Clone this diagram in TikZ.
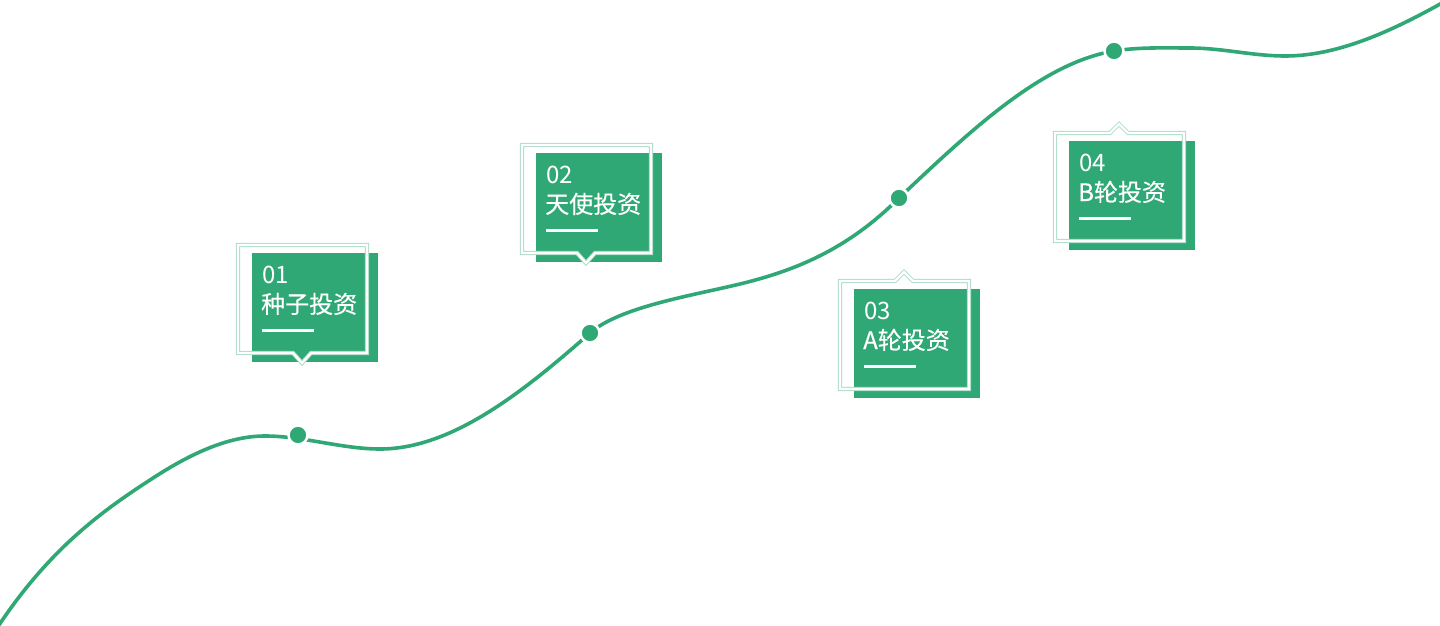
\documentclass[tikz,border=0pt]{standalone}
\usepackage{fontspec}
\setmainfont{Noto Sans CJK SC}
\newfontfamily\stagefont{Noto Sans CJK SC}[FakeBold=0.35]
\definecolor{stagegreen}{RGB}{48,168,117}

\tikzset{
  growth/.style={draw=stagegreen, line width=3.6pt},
  stagedot/.style={circle, fill=stagegreen, draw=white, line width=2.5pt, minimum size=19pt, inner sep=0pt},
  cardfill/.style={fill=stagegreen},
  cardframe/.style={draw=stagegreen!40, line width=1pt, double=white, double distance=2.2pt, line join=miter},
  stagetext/.style={anchor=base west, inner sep=0pt, text=white, font=\fontsize{24}{28}\selectfont},
  stagebar/.style={draw=white, line width=3pt}
}

\begin{document}
\begin{tikzpicture}[x=1pt, y=-1pt]
    \useasboundingbox (0,0) rectangle (1440,626);

    % points where the stages sit on the curve
    \coordinate (p1) at (298,435);
    \coordinate (p2) at (590,333);
    \coordinate (p3) at (899,198);
    \coordinate (p4) at (1114,51);

    \draw[growth] (-3,628) .. controls (48,551) and (99,513) .. (150,480)
        .. controls (188,455) and (227,436) .. (265,436)
        .. controls (303,436) and (342,449) .. (380,449)
        .. controls (450,449) and (520,395) .. (p2)
        .. controls (620,307) and (690,296) .. (740,284)
        .. controls (793,271) and (846,251) .. (p3)
        .. controls (971,130) and (1042,63) .. (p4)
        .. controls (1139,47) and (1165,48) .. (1190,48)
        .. controls (1222,48) and (1253,56) .. (1285,56)
        .. controls (1337,56) and (1390,32) .. (1442,3);

    \foreach \i in {1,...,4} \node[stagedot] (d\i) at (p\i) {};

    % cards: number / x / y / tail up / tail down / label
    \foreach \i/\x/\y/\a/\b/\lab in {1/238/245/0/10/种子投资, 2/522/145/0/10/天使投资,
                                      3/840/281/9/0/A轮投资, 4/1055/133/9/0/B轮投资} {
        \fill[cardfill] (\x+14,\y+8) rectangle (\x+140,\y+117);
        \draw[cardframe] (\x,\y) -- ++(55,0) -- ++(9,-\a) -- ++(9,\a) -- ++(56,0)
            -- ++(0,108) -- ++(-56,0) -- ++(-9,\b) -- ++(-9,-\b) -- ++(-55,0) -- cycle;
        \node[stagetext] (num\i) at (\x+24,\y+38) {0\i};
        \node[stagetext] (lab\i) at (\x+23,\y+68) {\stagefont\lab};
        \draw[stagebar] (\x+24,\y+85) -- ++(52,0);
    }
\end{tikzpicture}
\end{document}
